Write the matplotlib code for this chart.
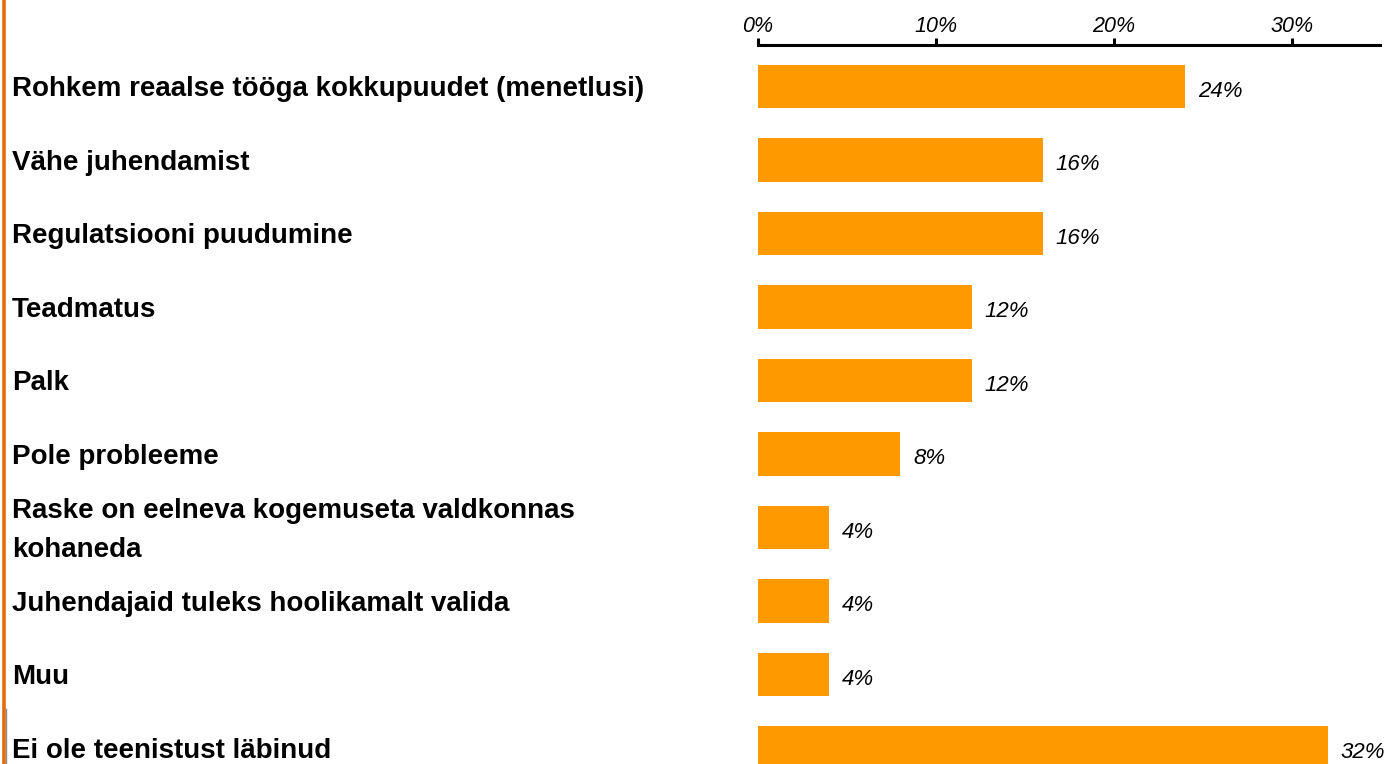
import matplotlib.pyplot as plt
from matplotlib.lines import Line2D

categories = [
    "Rohkem reaalse tööga kokkupuudet (menetlusi)",
    "Vähe juhendamist",
    "Regulatsiooni puudumine",
    "Teadmatus",
    "Palk",
    "Pole probleeme",
    "Raske on eelneva kogemuseta valdkonnas\nkohaneda",
    "Juhendajaid tuleks hoolikamalt valida",
    "Muu",
    "Ei ole teenistust läbinud",
]
values = [24, 16, 16, 12, 12, 8, 4, 4, 4, 32]
tick_values = [0, 10, 20, 30]
tick_labels = ["0%", "10%", "20%", "30%"]

plt.rcParams['font.family'] = ['Liberation Sans', 'DejaVu Sans']

W, H = 1388, 764
PX_PER_PCT = 17.8
fig = plt.figure(figsize=(W / 100, H / 100), dpi=100)
ax = fig.add_axes([758 / W, 0, (1380 - 758) / W, 1 - 45 / H])

y = list(range(len(categories)))
ax.barh(y, values, height=0.59, color='#FF9900', zorder=2)

# top = 45px, bottom = 764px, bar centres at 86.5 + 73.5*i
ax.set_ylim((764 - 86.5) / 73.5, (45 - 86.5) / 73.5)
ax.set_xlim(0, (1380 - 758) / PX_PER_PCT)

ax.xaxis.tick_top()
ax.set_xticks(tick_values)
ax.set_xticklabels(tick_labels, fontsize=15.5, style='italic')
ax.tick_params(axis='x', direction='out', length=5, width=2.2, pad=1)
ax.set_yticks([])
for side in ['left', 'right', 'bottom']:
    ax.spines[side].set_visible(False)
ax.spines['top'].set_linewidth(2.2)

for yi, v in zip(y, values):
    ax.annotate(f"{v}%", xy=(v, yi), xytext=(13, -5), textcoords='offset pixels',
                va='center', ha='left', fontsize=16, style='italic',
                annotation_clip=False)

# category labels on the left, in figure x / data y
for yi, label in zip(y, categories):
    ax.annotate(label, xy=(0, yi), xycoords=('figure fraction', 'data'),
                xytext=(12, -3), textcoords='offset pixels',
                va='center', ha='left', fontsize=20, fontweight='bold',
                annotation_clip=False, linespacing=1.65)

# orange frame line on the left
fig.add_artist(Line2D([3.5 / W, 3.5 / W], [0, 1], transform=fig.transFigure,
                      color='#E46C0A', linewidth=2.6))
fig.add_artist(Line2D([5.8 / W, 5.8 / W], [0, 55 / H], transform=fig.transFigure,
                      color='#8C8C8C', linewidth=1.0))

fig.savefig('out.png', dpi=100)
